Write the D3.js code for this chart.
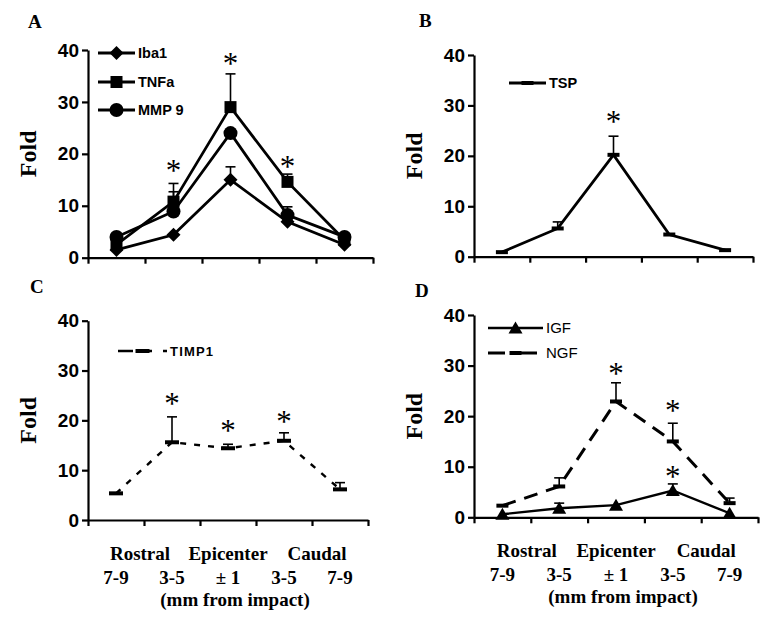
<!DOCTYPE html>
<html>
<head>
<meta charset="utf-8">
<script src="https://cdn.jsdelivr.net/npm/d3@7"></script>
<style>
  body { margin: 0; background: #fff; }
  svg { display: block; }
</style>
</head>
<body>
<script>
// distance from impact, 5 positions along the cord
const positions = ['R7-9', 'R3-5', 'Epi', 'C3-5', 'C7-9']
const yTicks = [0, 10, 20, 30, 40]

// A
const iba1 = [1.5, 4.4, 15.0, 6.9, 2.5]
const iba1Err = [0, 0, 2.5, 0, 0]
const tnfa = [2.5, 10.8, 29.0, 14.6, 3.4]
const tnfaErr = [0, 3.5, 6.4, 1.5, 0]
const mmp9 = [4.0, 8.9, 24.0, 8.2, 4.0]
const mmp9Err = [0, 3.8, 0, 1.6, 0]
const starsA = [[1, 17.5], [2, 38.1], [3, 18.2]]

// B
const tsp = [0.9, 5.6, 20.2, 4.4, 1.3]
const tspErr = [0, 1.3, 3.7, 0, 0]
const starsB = [[2, 27.5]]

// C
const timp1 = [5.35, 15.6, 14.4, 15.9, 6.15]
const timp1Err = [0, 5.1, 0.8, 1.6, 1.35]
const starsC = [[1, 24.1], [2, 18.7], [3, 20.5]]

// D
const igf = [0.6, 1.8, 2.4, 5.3, 0.8]
const igfErr = [0, 1.0, 0, 1.3, 0]
const ngf = [2.3, 6.1, 22.9, 15.0, 2.8]
const ngfErr = [0, 1.7, 3.7, 3.6, 1.0]
const starsD = [[2, 29.1], [3, 21.8], [3, 8.8]]

const regionLabels = ['Rostral', 'Epicenter', 'Caudal']
const distLabels = ['7-9', '3-5', '\u00b1 1', '3-5', '7-9']
const unitLabel = '(mm from impact)'

const width = 772
const height = 617
const sans = '"Liberation Sans", Arial, sans-serif'
const serif = '"Liberation Serif", "Times New Roman", serif'

const svg = d3.select('body').append('svg')
  .attr('xmlns', 'http://www.w3.org/2000/svg')
  .attr('width', width)
  .attr('height', height)

// marker shapes
const markers = {
  diamond: g => g.append('path').attr('d', 'M0,-7L7,0L0,7L-7,0Z'),
  square: g => g.append('rect').attr('x', -6).attr('y', -6).attr('width', 12).attr('height', 12),
  circle: g => g.append('circle').attr('r', 7),
  triangle: g => g.append('path').attr('d', 'M0,-6.5L7,5.5L-7,5.5Z'),
  dash: g => g.append('rect').attr('x', -6).attr('y', -2).attr('width', 12).attr('height', 4),
  dashWide: g => g.append('rect').attr('x', -7).attr('y', -2).attr('width', 14).attr('height', 4),
}

const panels = [
  {
    letter: 'A', letterPos: [28, 28], x0: 88, x1: 373, yTop: 50, yBot: 257.7,
    series: [
      { name: 'Iba1', values: iba1, err: iba1Err, marker: 'diamond', dash: null, width: 2.8 },
      { name: 'TNFa', values: tnfa, err: tnfaErr, marker: 'square', dash: null, width: 2.8 },
      { name: 'MMP 9', values: mmp9, err: mmp9Err, marker: 'circle', dash: null, width: 2.8 },
    ],
    stars: starsA,
    legend: { x: 10, rows: [53, 82, 110], len: 37, font: 14.5, weight: 'bold' },
  },
  {
    letter: 'B', letterPos: [419, 27], x0: 474, x1: 753, yTop: 55, yBot: 256.7,
    series: [
      { name: 'TSP', values: tsp, err: tspErr, marker: 'dash', dash: null, width: 2.8 },
    ],
    stars: starsB,
    legend: { x: 35, rows: [83], len: 37, font: 14.5, weight: 'bold' },
  },
  {
    letter: 'C', letterPos: [30, 293], x0: 88, x1: 368, yTop: 320.7, yBot: 520,
    series: [
      { name: 'TIMP1', values: timp1, err: timp1Err, marker: 'dashWide', dash: '6,8', width: 2.4,
        legendDash: '15,4,15,11,4' },
    ],
    stars: starsC,
    legend: { x: 30, rows: [351], len: 49, font: 13, weight: 'bold', spacing: 1.2 },
    xLabels: true,
  },
  {
    letter: 'D', letterPos: [415, 297], x0: 474, x1: 758, yTop: 315, yBot: 517.3,
    series: [
      { name: 'IGF', values: igf, err: igfErr, marker: 'triangle', dash: null, width: 2.4 },
      { name: 'NGF', values: ngf, err: ngfErr, marker: 'dash', dash: '14,9', width: 3,
        legendDash: '17,7,25,7,4' },
    ],
    stars: starsD,
    legend: { x: 14, rows: [328, 353], len: 55, font: 15, weight: 'normal' },
    xLabels: true,
  },
]

panels.forEach(p => {
  const g = svg.append('g').attr('class', `panel-${p.letter}`)

  const x = d3.scaleBand().domain(positions).range([p.x0, p.x1])
  const xEdge = d3.scaleLinear().domain([0, positions.length]).range([p.x0, p.x1])
  const y = d3.scaleLinear().domain([0, 40]).range([p.yBot, p.yTop])
  const cx = i => x(positions[i]) + x.bandwidth() / 2

  // panel letter
  g.append('text')
    .attr('x', p.letterPos[0])
    .attr('y', p.letterPos[1])
    .style('font-family', serif)
    .style('font-weight', 'bold')
    .style('font-size', '19px')
    .text(p.letter)

  // axes
  const yAxis = g.append('g')
    .attr('transform', `translate(${p.x0},0)`)
    .call(d3.axisLeft(y).tickValues(yTicks).tickSize(6).tickSizeOuter(0).tickPadding(3))
  const xAxis = g.append('g')
    .attr('transform', `translate(0,${p.yBot})`)
    .call(d3.axisBottom(xEdge).tickValues(d3.range(positions.length + 1)).tickFormat('')
      .tickSize(6).tickSizeOuter(0))
  ;[yAxis, xAxis].forEach(a => {
    a.select('.domain').attr('stroke', '#000').attr('stroke-width', 2.2)
    a.selectAll('.tick line').attr('stroke', '#000').attr('stroke-width', 2.2)
  })
  yAxis.selectAll('.tick text')
    .style('font-family', sans)
    .style('font-weight', 'bold')
    .style('font-size', '19px')
    .attr('fill', '#000')

  // y title
  g.append('text')
    .attr('transform', `translate(${p.x0 - 60},${(p.yTop + p.yBot) / 2}) rotate(-90)`)
    .attr('text-anchor', 'middle')
    .attr('dy', '0.35em')
    .style('font-family', serif)
    .style('font-weight', 'bold')
    .style('font-size', '24px')
    .text('Fold')

  // lines, error bars, markers
  p.series.forEach(s => {
    const line = d3.line().x((d, i) => cx(i)).y(d => y(d))
    g.append('path')
      .datum(s.values)
      .attr('d', line)
      .attr('fill', 'none')
      .attr('stroke', '#000')
      .attr('stroke-width', s.width)
      .attr('stroke-dasharray', s.dash)

    s.err.forEach((e, i) => {
      if (!e) return
      const v = s.values[i]
      g.append('line')
        .attr('x1', cx(i)).attr('x2', cx(i))
        .attr('y1', y(v)).attr('y2', y(v + e))
        .attr('stroke', '#000').attr('stroke-width', 1.6)
      g.append('line')
        .attr('x1', cx(i) - 5).attr('x2', cx(i) + 5)
        .attr('y1', y(v + e)).attr('y2', y(v + e))
        .attr('stroke', '#000').attr('stroke-width', 1.6)
    })

    s.values.forEach((v, i) => {
      const m = g.append('g').attr('transform', `translate(${cx(i)},${y(v)})`)
      markers[s.marker](m).attr('fill', '#000')
    })
  })

  // significance stars
  p.stars.forEach(([i, v]) => {
    g.append('text')
      .attr('x', cx(i))
      .attr('y', y(v) + 14)
      .attr('text-anchor', 'middle')
      .style('font-family', serif)
      .style('font-size', '31px')
      .text('*')
  })

  // legend
  const lg = g.append('g').attr('class', 'legend')
  p.series.forEach((s, k) => {
    const ly = p.legend.rows[k]
    const lx = p.x0 + p.legend.x
    lg.append('line')
      .attr('x1', lx).attr('x2', lx + p.legend.len)
      .attr('y1', ly).attr('y2', ly)
      .attr('stroke', '#000')
      .attr('stroke-width', s.width)
      .attr('stroke-dasharray', s.legendDash || null)
    const m = lg.append('g').attr('transform', `translate(${lx + p.legend.len / 2},${ly})`)
    markers[s.marker](m).attr('fill', '#000')
    lg.append('text')
      .attr('x', lx + p.legend.len + 3)
      .attr('y', ly)
      .attr('dy', '0.36em')
      .style('font-family', sans)
      .style('font-weight', p.legend.weight)
      .style('font-size', `${p.legend.font}px`)
      .style('letter-spacing', p.legend.spacing ? `${p.legend.spacing}px` : null)
      .text(s.name)
  })

  // x-axis wording under the lower panels
  if (p.xLabels) {
    const tl = g.append('g')
      .style('font-family', serif)
      .style('font-weight', 'bold')
      .style('font-size', '19px')
      .attr('text-anchor', 'middle')
    const regionX = [xEdge(1) - 4, cx(2), xEdge(4) + 5]
    regionLabels.forEach((t, i) => {
      tl.append('text').attr('x', regionX[i]).attr('y', p.yBot + 40).text(t)
    })
    distLabels.forEach((t, i) => {
      tl.append('text').attr('x', cx(i)).attr('y', p.yBot + 64).text(t)
    })
    tl.append('text').attr('x', cx(2) + 7).attr('y', p.yBot + 86).text(unitLabel)
  }
})
</script>
</body>
</html>
